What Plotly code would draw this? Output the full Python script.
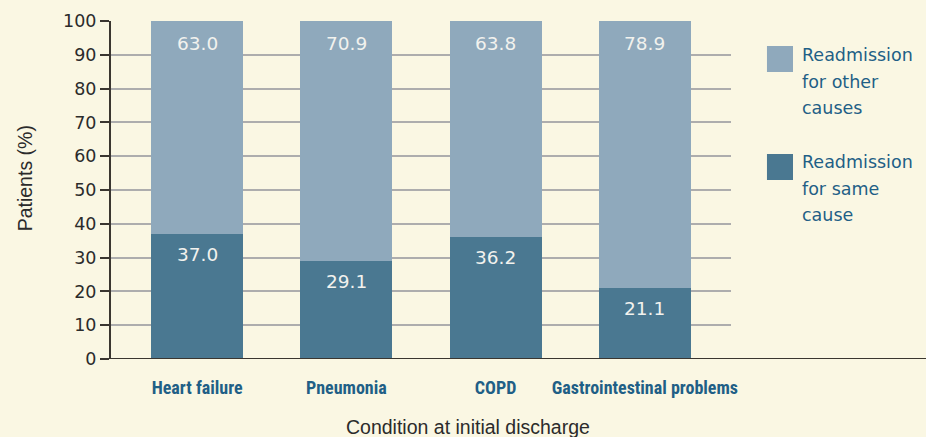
import plotly.graph_objects as go

categories = ['Heart failure', 'Pneumonia', 'COPD', 'Gastrointestinal problems']
same_cause = [37.0, 29.1, 36.2, 21.1]
other_causes = [63.0, 70.9, 63.8, 78.9]
y_ticks = [0, 10, 20, 30, 40, 50, 60, 70, 80, 90, 100]

colors = {
    'background': '#FAF7E3',
    'same': '#4A7891',
    'other': '#8FA9BC',
    'label': '#1F5F86',
    'text': '#2B2B2B',
    'grid': '#ADADAD',
}
wide_font = 'DejaVu Sans, Verdana, sans-serif'
base_font = 'Liberation Sans, Arial, sans-serif'
cond_font = 'Liberation Sans Narrow, Roboto Condensed, Liberation Sans, sans-serif'

traces = []
traces.append(go.Bar(x=categories, y=same_cause, name='Readmission for same cause',
                     marker={'color': colors['same'], 'line': {'width': 0}}, width=0.615))
traces.append(go.Bar(x=categories, y=other_causes, name='Readmission for other causes',
                     marker={'color': colors['other'], 'line': {'width': 0}}, width=0.615))

fig = go.Figure(data=traces)

# value labels near the top of each segment
annotations = []
for cat, s, o in zip(categories, same_cause, other_causes):
    annotations.append(dict(x=cat, y=s, xref='x', yref='y', text='%.1f' % s, showarrow=False,
                            yanchor='middle', yshift=-21,
                            font={'color': '#F2F2EE', 'size': 18.5, 'family': wide_font}))
    annotations.append(dict(x=cat, y=s + o, xref='x', yref='y', text='%.1f' % o, showarrow=False,
                            yanchor='middle', yshift=-22,
                            font={'color': '#F2F2EE', 'size': 18.5, 'family': wide_font}))

# manual legend (big square swatches, wrapped text, one annotation per line)
def py(p):
    # pixel row -> paper y (plot area rows 21..359)
    return (359 - p) / 338.0

legend_items = [(['Readmission', 'for other', 'causes'], colors['other'], 46, 72, 55),
                (['Readmission', 'for same', 'cause'], colors['same'], 154, 180, 162)]
shapes = []
for lines, col, sw_top, sw_bot, first_row in legend_items:
    shapes.append(dict(type='rect', xref='paper', yref='paper', x0=1.058, x1=1.1,
                       y0=py(sw_bot), y1=py(sw_top), fillcolor=col, line={'width': 0}))
    for i, line in enumerate(lines):
        annotations.append(dict(x=1.112, y=py(first_row + 26.5 * i), xref='paper', yref='paper',
                                text=line, showarrow=False, xanchor='left', yanchor='middle',
                                align='left',
                                font={'color': colors['label'], 'size': 17.5, 'family': wide_font}))

# bottom axis line runs to the right edge
shapes.append(dict(type='line', xref='paper', yref='y', x0=0, x1=1.32, y0=0, y1=0,
                   line={'color': '#3A3630', 'width': 2}))

# axis titles
annotations.append(dict(x=0.575, y=-0.201, xref='paper', yref='paper', text='Condition at initial discharge',
                        showarrow=False, xanchor='center', yanchor='middle',
                        font={'color': colors['text'], 'size': 19.5, 'family': base_font}))
annotations.append(dict(x=-0.139, y=0.534, xref='paper', yref='paper', text='Patients (%)',
                        showarrow=False, xanchor='center', yanchor='middle', textangle=-90,
                        font={'color': colors['text'], 'size': 19.5, 'family': base_font}))

fig.update_layout(
    width=926, height=437,
    barmode='stack',
    showlegend=False,
    paper_bgcolor=colors['background'],
    plot_bgcolor=colors['background'],
    margin={'l': 111, 'r': 195, 't': 21, 'b': 78, 'pad': 0},
    font={'family': wide_font, 'color': colors['text']},
    shapes=shapes,
    annotations=annotations,
    xaxis={
        'range': [-0.577, 3.577],
        'showgrid': False,
        'zeroline': False,
        'showline': False,
        'ticks': '',
        'ticklabelstandoff': 16,
        'tickfont': {'family': cond_font, 'size': 18, 'color': colors['label'], 'weight': 'bold'},
    },
    yaxis={
        'range': [0, 100],
        'tickvals': y_ticks,
        'showgrid': True,
        'gridcolor': colors['grid'],
        'gridwidth': 1.5,
        'zeroline': False,
        'showline': True,
        'linecolor': '#3A3630',
        'linewidth': 2,
        'ticks': 'outside',
        'ticklen': 9,
        'tickwidth': 2,
        'tickcolor': '#3A3630',
        'tickfont': {'size': 17.5, 'color': colors['text'], 'family': wide_font},
    },
)

fig.write_html("out.html", config={'displayModeBar': False},
               post_script="document.body.style.margin='0';")
